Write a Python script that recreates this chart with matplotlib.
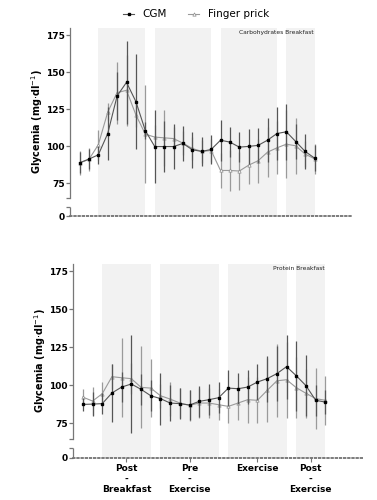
import numpy as np
import matplotlib.pyplot as plt
from matplotlib.lines import Line2D

# time points (index along the protocol)
t = np.arange(26)

# carbohydrate breakfast
carb_cgm = [88.7, 91.2, 94.1, 108.5, 134.0, 143.2, 130.1, 110.5, 99.7, 99.7, 99.7, 101.8, 97.5,
            96.4, 97.7, 104.0, 102.7, 99.3, 99.8, 100.5, 104.0, 108.5, 109.7, 103.1, 96.4, 91.9]
carb_cgm_sd = [7, 7, 6, 18, 16, 28, 32, 6, 25, 17, 15, 12, 12,
               10, 10, 14, 10, 10, 12, 12, 15, 18, 19, 12, 12, 9]
carb_fp = [88.5, 91.0, 100.9, 123.0, 136.2, 137.8, 121.1, 108.1, 106.1, 105.6, 105.1, 102.0, 98.4,
           96.4, 97.0, 83.5, 83.5, 83.1, 87.1, 90.1, 95.9, 98.8, 101.3, 100.2, 94.6, 91.4]
carb_fp_sd = [8, 8, 10, 6, 21, 24, 8, 33, 8, 19, 8, 8, 8,
              8, 8, 12, 14, 13, 13, 15, 17, 18, 23, 19, 9, 10]

# protein breakfast
prot_cgm = [87.5, 87.7, 88.0, 95.0, 98.9, 100.9, 97.4, 93.2, 91.3, 88.4, 88.0, 87.1, 89.5,
            90.6, 91.9, 98.2, 97.8, 98.9, 102.2, 104.4, 107.7, 112.3, 106.3, 99.8, 90.2, 89.0]
prot_cgm_sd = [4, 8, 7, 19, 10, 32, 10, 10, 17, 12, 10, 10, 10,
               10, 10, 12, 10, 11, 12, 15, 18, 21, 23, 20, 10, 8]
prot_fp = [92.3, 89.7, 94.5, 105.7, 105.0, 104.4, 98.7, 98.2, 93.2, 91.0, 88.4, 86.9, 88.4,
           88.4, 87.3, 86.2, 88.4, 90.6, 90.2, 96.7, 103.0, 103.7, 98.5, 94.8, 91.3, 90.2]
prot_fp_sd = [5, 9, 8, 8, 26, 10, 27, 19, 8, 11, 10, 10, 10,
              10, 10, 11, 11, 15, 15, 21, 24, 25, 20, 16, 20, 16]

# shaded phases (start, end index)
phases = [(2, 7), (8, 14), (15, 21), (22, 25)]
phase_ticks = [4.5, 11, 18, 23.5]
phase_labels = ['Post\n-\nBreakfast', 'Pre\n-\nExercise', 'Exercise', 'Post\n-\nExercise']

# broken y axis: value knots -> axis fraction
yk = [0, 5, 65, 180]
fk = [0, 0.048, 0.097, 1.0]


def fwd(v):
    return np.interp(v, yk, fk)


def inv(f):
    return np.interp(f, fk, yk)


def panel(ax, cgm, cgm_sd, fp, fp_sd, title, show_x):
    ax.set_yscale('function', functions=(fwd, inv))
    ax.set_xlim(-1, 29)
    ax.set_ylim(0, 180)
    for a, b in phases:
        ax.axvspan(a, b, color='#f2f2f2', lw=0, zorder=0)
    ax.errorbar(t, fp, yerr=fp_sd, color='#9a9a9a', lw=0.8, elinewidth=0.9, capsize=0,
                marker='^', ms=2.4, mfc='white', mec='#8a8a8a', mew=0.5, zorder=3)
    ax.errorbar(t, cgm, yerr=cgm_sd, color='#555555', lw=0.8, elinewidth=0.9, capsize=0,
                marker='s', ms=1.9, mfc='black', mec='black', zorder=4)
    ax.text(24.9, 178.5, title, fontsize=4.3, ha='right', va='top', color='#222222')

    for s in ['top', 'right']:
        ax.spines[s].set_visible(False)
    ax.spines['left'].set_bounds(65, 180)
    ax.spines['left'].set_color('#777777')
    ax.spines['left'].set_linewidth(0.9)
    ax.vlines(-1, 0, 5, color='#777777', lw=0.9, clip_on=False, zorder=5)
    ax.spines['bottom'].set_linestyle((0, (1, 1.5)))
    ax.spines['bottom'].set_color('#666666')
    ax.spines['bottom'].set_linewidth(1.2)

    ax.set_yticks([0, 5, 65, 75, 100, 125, 150, 175],
                  labels=['0', '', '', '75', '100', '125', '150', '175'])
    ax.tick_params(axis='y', length=3, width=0.9, color='#777777', labelsize=6.5, pad=1)
    for lab in ax.get_yticklabels():
        lab.set_fontweight('bold')
    ax.set_ylabel('Glycemia (mg$\\cdot$dl$^{-1}$)', fontsize=7, fontweight='bold')
    ax.yaxis.set_label_coords(-0.088, 0.5)

    if show_x:
        ax.set_xticks(phase_ticks, labels=phase_labels)
        ax.tick_params(axis='x', length=3, width=0.8, color='#777777', labelsize=6.5, pad=2)
        for lab in ax.get_xticklabels():
            lab.set_fontweight('bold')
            lab.set_linespacing(1.2)
    else:
        ax.set_xticks([])


fig = plt.figure(figsize=(3.77, 5.0), dpi=100)
ax1 = fig.add_axes([0.186, 0.568, 0.748, 0.376])
ax2 = fig.add_axes([0.194, 0.085, 0.772, 0.388])

panel(ax1, carb_cgm, carb_cgm_sd, carb_fp, carb_fp_sd, 'Carbohydrates Breakfast', False)
panel(ax2, prot_cgm, prot_cgm_sd, prot_fp, prot_fp_sd, 'Protein Breakfast', True)

handles = [
    Line2D([], [], color='#555555', lw=0.8, marker='s', ms=1.9, mfc='black', mec='black'),
    Line2D([], [], color='#9a9a9a', lw=0.8, marker='^', ms=2.4, mfc='white', mec='#8a8a8a', mew=0.5),
]
fig.legend(handles, ['CGM', 'Finger prick'], loc='upper center', bbox_to_anchor=(0.52, 1.0),
           ncol=2, frameon=False, fontsize=7.5, handlelength=1.1, columnspacing=2.0,
           handletextpad=0.8)

fig.savefig('out.png', dpi=100)
